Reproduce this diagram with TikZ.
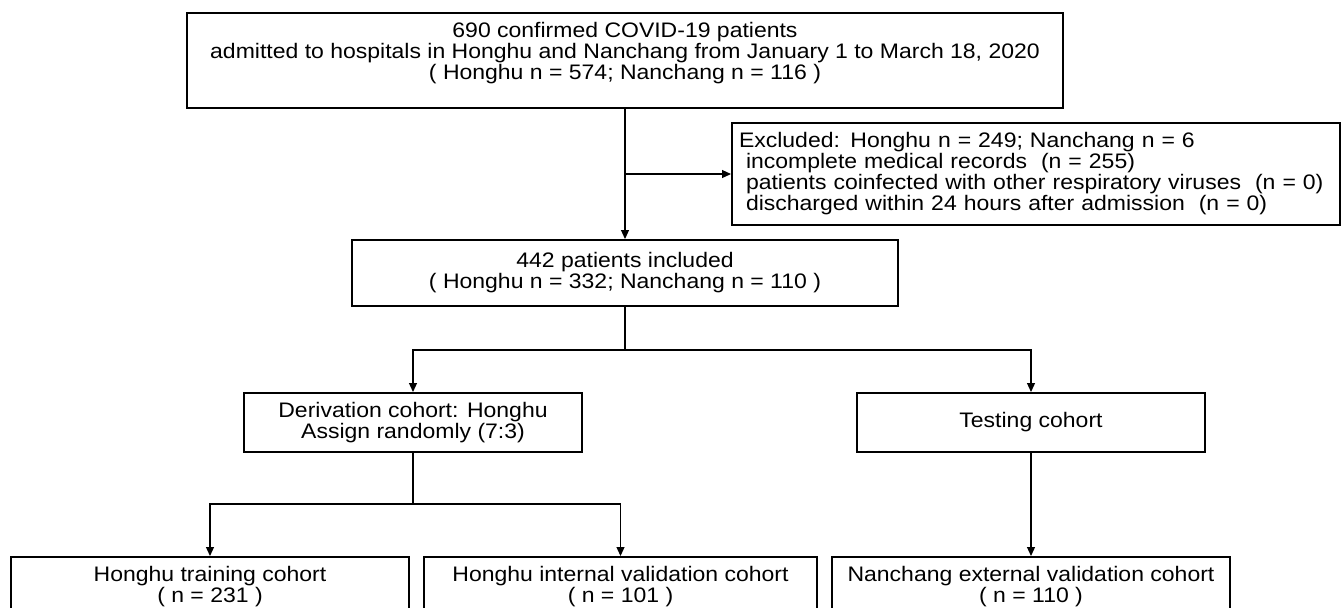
\documentclass[tikz,border=0pt]{standalone}
\usepackage{fontspec}
\setmainfont{Liberation Sans}[FakeStretch=1.095]
\usetikzlibrary{arrows.meta}

\tikzset{
    box/.style={draw, line width=1pt, align=center, inner sep=0pt,
        font=\fontsize{10.5}{10.5}\selectfont},
    conn/.style={line width=0.6pt},
    >={Triangle[length=4.5pt,width=4pt]}
}

\begin{document}
\begin{tikzpicture}[x=0.5pt,y=-0.5pt]
    \useasboundingbox (0,0) rectangle (1344,607);
    \clip (0,0) rectangle (1344,607);

    % boxes
    \node[box, minimum width=438pt, minimum height=47.5pt, text depth=10pt] (all) at (625,60.5)
        {690 confirmed COVID-19 patients\\
         admitted to hospitals in Honghu and Nanchang from January 1 to March 18, 2020\\
         ( Honghu n = 574; Nanchang n = 116 )};
    \node[box, align=left, inner xsep=3.5pt, text width=297pt, minimum height=51pt] (excl) at (1036,174)
        {Excluded: Honghu n = 249; Nanchang n = 6\\
         \ incomplete medical records\ \ (n = 255)\\
         \ patients coinfected with other respiratory viruses\ \ (n = 0)\\
         \ discharged within 24 hours after admission\ \ (n = 0)};
    \node[box, minimum width=273pt, minimum height=33pt] (incl) at (625,273)
        {442 patients included\\( Honghu n = 332; Nanchang n = 110 )};
    \node[box, minimum width=169pt, minimum height=29.5pt] (deriv) at (413,422.5)
        {Derivation cohort: Honghu\\Assign randomly (7:3)};
    \node[box, minimum width=174pt, minimum height=29.5pt] (test) at (1031,422.5)
        {Testing cohort};
    \node[box, minimum width=199pt, minimum height=30pt] (train) at (210,587)
        {Honghu training cohort\\( n = 231 )};
    \node[box, minimum width=196.5pt, minimum height=30pt] (intval) at (620.5,587)
        {Honghu internal validation cohort\\( n = 101 )};
    \node[box, minimum width=199pt, minimum height=30pt] (extval) at (1031,587)
        {Nanchang external validation cohort\\( n = 110 )};

    \coordinate (split1) at (625,350);
    \coordinate (split2) at (413,504);

    % connectors
    \draw[conn,->] (all.south) -- (incl.north);
    \draw[conn,->] (all.south |- excl.west) -- (excl.west);
    \draw[conn] (incl.south) -- (split1);
    \draw[conn,->] (split1) -| (deriv.north);
    \draw[conn,->] (split1) -| (test.north);
    \draw[conn] (deriv.south) -- (split2);
    \draw[conn,->] (split2) -| (train.north);
    \draw[conn,->] (split2) -| (intval.north);
    \draw[conn,->] (test.south) -- (extval.north);
\end{tikzpicture}
\end{document}
